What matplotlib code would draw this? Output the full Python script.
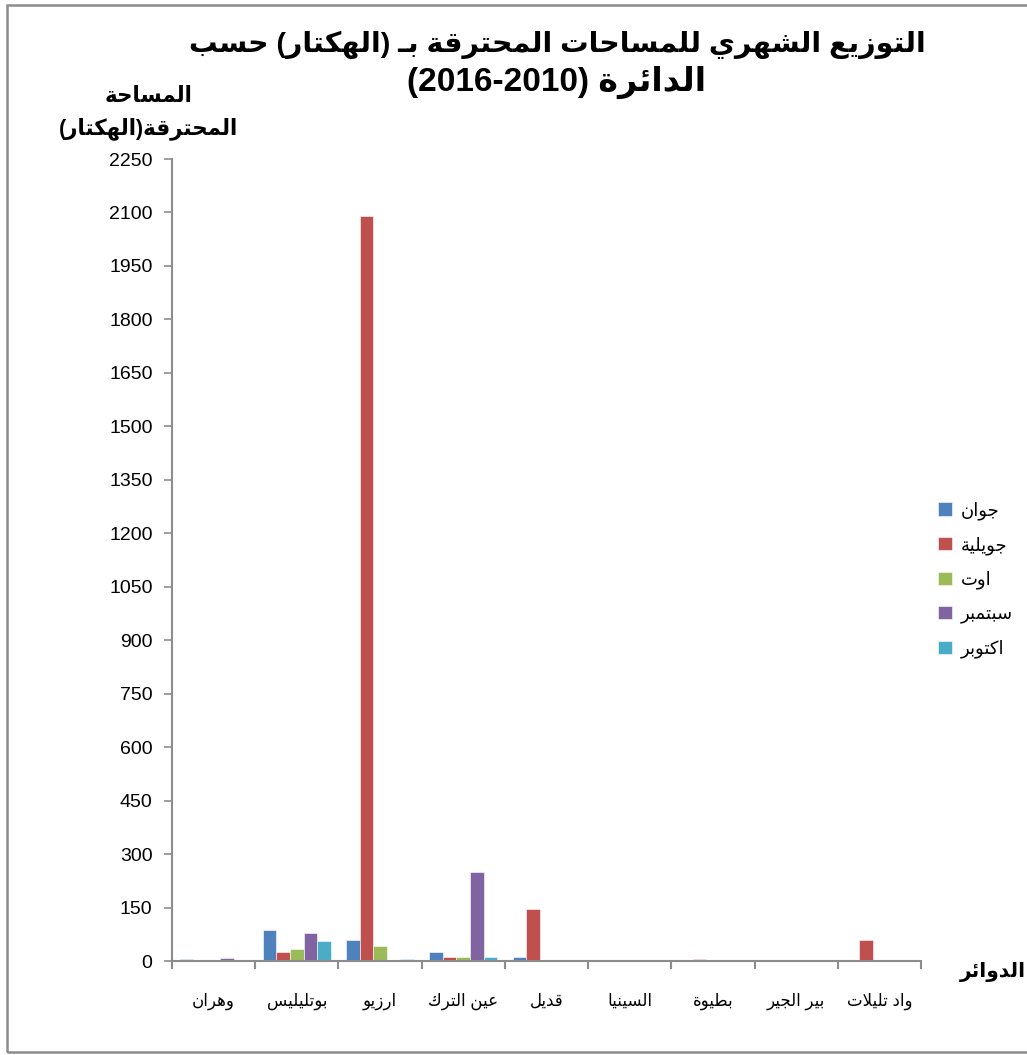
import re
import numpy as np
import matplotlib
matplotlib.use('Agg')
import matplotlib.pyplot as plt
from matplotlib.patches import Rectangle

# districts, left to right as in the reference
districts = ['وهران', 'بوتليليس', 'ارزيو', 'عين الترك', 'قديل',
             'السينيا', 'بطيوة', 'بير الجير', 'واد تليلات']
months = ['جوان', 'جويلية', 'اوت', 'سبتمبر', 'اكتوبر']
colors = ['#4F81BD', '#C0504D', '#9BBB59', '#8064A2', '#4BACC6']

# burnt area (ha) per month
juin = [5, 87, 59, 26, 10, 1, 1, 1, 1]
juillet = [1, 26, 2090, 10, 145, 0, 5, 1, 58]
aout = [4, 35, 42, 10, 3, 0, 0.5, 1, 3]
septembre = [9.5, 79, 0, 250, 4, 1, 0.5, 1, 1]
octobre = [0, 55, 5, 10, 1, 0, 0, 0, 0]

title_l1 = 'التوزيع الشهري للمساحات المحترقة بـ (الهكتار) حسب'
title_l2 = 'الدائرة (2010-2016)'
ylab_l1 = 'المساحة'
ylab_l2 = 'المحترقة(الهكتار)'
xlab = 'الدوائر'

# --- small arabic shaper: matplotlib does no shaping / bidi ---
AR = {
    'ء': (0xFE80, 1), 'آ': (0xFE81, 2), 'أ': (0xFE83, 2), 'ؤ': (0xFE85, 2),
    'إ': (0xFE87, 2), 'ئ': (0xFE89, 4), 'ا': (0xFE8D, 2), 'ب': (0xFE8F, 4),
    'ة': (0xFE93, 2), 'ت': (0xFE95, 4), 'ث': (0xFE99, 4), 'ج': (0xFE9D, 4),
    'ح': (0xFEA1, 4), 'خ': (0xFEA5, 4), 'د': (0xFEA9, 2), 'ذ': (0xFEAB, 2),
    'ر': (0xFEAD, 2), 'ز': (0xFEAF, 2), 'س': (0xFEB1, 4), 'ش': (0xFEB5, 4),
    'ص': (0xFEB9, 4), 'ض': (0xFEBD, 4), 'ط': (0xFEC1, 4), 'ظ': (0xFEC5, 4),
    'ع': (0xFEC9, 4), 'غ': (0xFECD, 4), 'ف': (0xFED1, 4), 'ق': (0xFED5, 4),
    'ك': (0xFED9, 4), 'ل': (0xFEDD, 4), 'م': (0xFEE1, 4), 'ن': (0xFEE5, 4),
    'ه': (0xFEE9, 4), 'و': (0xFEED, 2), 'ى': (0xFEEF, 2), 'ي': (0xFEF1, 4),
    'LA': (0xFEFB, 2), 'ـ': (None, 4),
}


def ar(s):
    chars = []
    i = 0
    while i < len(s):
        if s[i] == 'ل' and i + 1 < len(s) and s[i + 1] == 'ا':
            chars.append('LA')
            i += 2
        else:
            chars.append(s[i])
            i += 1
    out = []
    for i, c in enumerate(chars):
        if c not in AR:
            out.append(c)
            continue
        base, n = AR[c]
        prev = chars[i - 1] if i > 0 else None
        nxt = chars[i + 1] if i + 1 < len(chars) else None
        jp = prev in AR and AR[prev][1] == 4
        jn = n == 4 and nxt in AR
        if base is None:
            out.append(c)
            continue
        if n == 1:
            k = 0
        elif jp and jn:
            k = 3
        elif jp:
            k = 1
        elif jn:
            k = 2
        else:
            k = 0
        out.append(chr(base + k))
    vis = ''.join(out)[::-1]
    vis = vis.translate(str.maketrans('()', ')('))
    return re.sub(r'[0-9]+', lambda m: m.group(0)[::-1], vis)


plt.rcParams['font.family'] = ['Liberation Sans', 'DejaVu Sans']

fig = plt.figure(figsize=(10.27, 10.55), dpi=100)
ax = fig.add_axes([172 / 1027, 1 - 961 / 1055, 749 / 1027, 802 / 1055])

series = [juin, juillet, aout, septembre, octobre]
x = np.arange(len(districts))
w = 0.163
for k, vals in enumerate(series):
    ax.bar(x + (k - 2) * w, vals, width=w, color=colors[k],
           edgecolor='white', linewidth=0.4, label=ar(months[k]))

ax.set_xlim(-0.5, len(districts) - 0.5)
ax.set_ylim(0, 2250)
ax.set_yticks(np.arange(0, 2251, 150))
ax.set_xticks(x)
ax.set_xticklabels([ar(d) for d in districts], fontsize=12)
ax.set_xticks(np.arange(-0.5, len(districts), 1), minor=True)
ax.tick_params(axis='x', which='major', length=0, pad=23)
ax.tick_params(axis='x', which='minor', length=6, color='#8c8c8c', width=1.5)
ax.tick_params(axis='y', length=6, color='#8c8c8c', width=1.2, labelsize=14, pad=8)
for s in ['top', 'right']:
    ax.spines[s].set_visible(False)
for s in ['left', 'bottom']:
    ax.spines[s].set_color('#8c8c8c')
    ax.spines[s].set_linewidth(1.5)

# titles
fig.text(557 / 1027, 1 - 45 / 1055, ar(title_l1), ha='center', va='center',
         fontsize=20.5, fontweight='bold')
fig.text(557 / 1027, 1 - 82 / 1055, ar(title_l2), ha='center', va='center',
         fontsize=24, fontweight='bold')
fig.text(149 / 1027, 1 - 97 / 1055, ar(ylab_l1), ha='center', va='center',
         fontsize=15.5, fontweight='bold')
fig.text(149 / 1027, 1 - 129 / 1055, ar(ylab_l2), ha='center', va='center',
         fontsize=15.5, fontweight='bold')
fig.text(993 / 1027, 1 - 972 / 1055, ar(xlab), ha='center', va='center',
         fontsize=14.5, fontweight='bold')

fig.legend(loc='upper left', bbox_to_anchor=(922 / 1027, 1 - 485 / 1055),
           frameon=False, fontsize=13, handlelength=0.75, handleheight=0.75,
           handletextpad=0.5, labelspacing=0.9)

# chart border
fig.patches.append(Rectangle((7 / 1027, 3 / 1055), 1.2, 1 - 8 / 1055,
                             transform=fig.transFigure, fill=False,
                             edgecolor='#8c8c8c', linewidth=1.8))

fig.savefig('out.png', dpi=100)
